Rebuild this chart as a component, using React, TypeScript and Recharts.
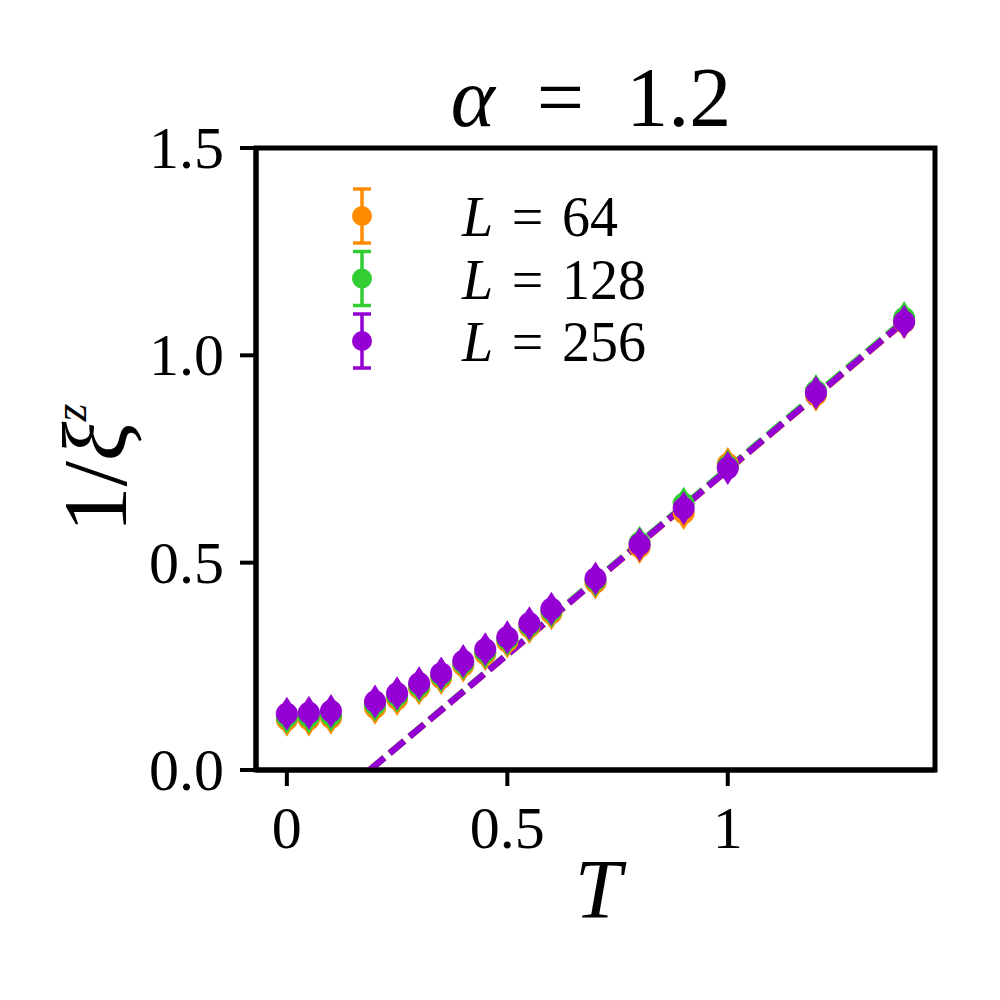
import React from 'react';
import { ComposedChart, Scatter, Line, XAxis, YAxis, ReferenceArea } from 'recharts';

const temps = [0, 0.05, 0.1, 0.2, 0.25, 0.3, 0.35, 0.4, 0.45, 0.5, 0.55, 0.6, 0.7, 0.8, 0.9, 1.0, 1.2, 1.4];
const invXiL64 = [0.121, 0.122, 0.126, 0.15, 0.171, 0.197, 0.222, 0.252, 0.28, 0.31, 0.345, 0.378, 0.452, 0.538, 0.62, 0.738, 0.905, 1.08];
const invXiL128 = [0.128, 0.129, 0.133, 0.158, 0.179, 0.203, 0.228, 0.258, 0.286, 0.316, 0.35, 0.384, 0.458, 0.548, 0.642, 0.732, 0.914, 1.09];
const invXiL256 = [0.1355, 0.138, 0.142, 0.165, 0.185, 0.209, 0.233, 0.263, 0.291, 0.32, 0.354, 0.389, 0.462, 0.544, 0.631, 0.728, 0.91, 1.081];

const fitT = [0.188, 1.4];
const fitL64 = [0, 1.08];
const fitL128 = [0, 1.085];
const fitL256 = [0, 1.081];

const sizes = [64, 128, 256];
const colors = ['#FF8C00', '#32CD32', '#9400D3'];

const xTicks = [0, 0.5, 1];
const xTickLabels = ['0', '0.5', '1'];
const yTicks = [0, 0.5, 1, 1.5];
const yTickLabels = ['0.0', '0.5', '1.0', '1.5'];

const FONT = '"Liberation Serif", "DejaVu Serif", serif';

const toPts = (xs: number[], ys: number[]) => xs.map((T, i) => ({ T, v: ys[i] }));

const seriesData = [invXiL64, invXiL128, invXiL256].map((ys) => toPts(temps, ys));
const fitData = [fitL64, fitL128, fitL256].map((ys) => toPts(fitT, ys));

const Drop = (props: any) => {
  const { cx, cy, fill } = props;
  if (cx == null || cy == null) return <g />;
  return (
    <g>
      <path d={`M${cx - 7},${cy - 6} L${cx + 7},${cy - 6} L${cx},${cy - 17} Z`} fill={fill} />
      <path d={`M${cx - 7},${cy + 6} L${cx + 7},${cy + 6} L${cx},${cy + 17} Z`} fill={fill} />
      <circle cx={cx} cy={cy} r={11} fill={fill} />
    </g>
  );
};

const XTick = (props: any) => {
  const { x, y, payload } = props;
  const i = xTicks.indexOf(payload.value);
  return (
    <text x={x} y={y + 60} textAnchor="middle" fontFamily={FONT} fontSize={60} fill="#000">
      {i >= 0 ? xTickLabels[i] : payload.value}
    </text>
  );
};

const YTick = (props: any) => {
  const { x, y, payload } = props;
  const i = yTicks.indexOf(payload.value);
  return (
    <text x={x - 14} y={y + 20} textAnchor="end" fontFamily={FONT} fontSize={60} fill="#000">
      {i >= 0 ? yTickLabels[i] : payload.value}
    </text>
  );
};

const axisStroke = { stroke: '#000', strokeWidth: 5 };
const tickStroke = { stroke: '#000', strokeWidth: 4 };

export default function App() {
  return (
    <div style={{ position: 'absolute', left: 0, top: 0, width: 1000, height: 1000, background: '#fff' }}>
      <ComposedChart
        width={1000}
        height={1000}
        margin={{ top: 148, right: 65, bottom: 170, left: 156 }}
      >
        <XAxis
          type="number"
          dataKey="T"
          domain={[-0.07, 1.47]}
          allowDataOverflow
          ticks={xTicks}
          tick={<XTick />}
          tickSize={16}
          tickLine={tickStroke}
          axisLine={axisStroke}
          height={60}
        />
        <YAxis
          type="number"
          dataKey="v"
          domain={[0, 1.5]}
          allowDataOverflow
          ticks={yTicks}
          tick={<YTick />}
          tickSize={16}
          tickLine={tickStroke}
          axisLine={axisStroke}
          width={100}
        />
        {fitData.map((d, i) => (
          <Line
            key={'fit' + i}
            data={d}
            dataKey="v"
            type="linear"
            stroke={colors[i]}
            strokeWidth={6.5}
            strokeDasharray="19 7"
            dot={false}
            activeDot={false}
            isAnimationActive={false}
          />
        ))}
        {seriesData.map((d, i) => (
          <Scatter
            key={'s' + i}
            name={`L = ${sizes[i]}`}
            data={d}
            dataKey="v"
            fill={colors[i]}
            shape={<Drop />}
            isAnimationActive={false}
          />
        ))}
        <ReferenceArea
          x1={-0.07}
          x2={1.47}
          y1={0}
          y2={1.5}
          fill="none"
          fillOpacity={0}
          stroke="#000"
          strokeWidth={5}
          strokeOpacity={1}
          ifOverflow="visible"
        />
      </ComposedChart>
      <svg
        width={1000}
        height={1000}
        style={{ position: 'absolute', left: 0, top: 0, pointerEvents: 'none' }}
      >
        <text x={591} y={126} textAnchor="middle" fontFamily={FONT} fontSize={84} fill="#000">
          <tspan fontStyle="italic">α</tspan>
          <tspan>{'\u2002=\u20021.2'}</tspan>
        </text>
        <text x={598} y={918} textAnchor="middle" fontFamily={FONT} fontSize={84} fontStyle="italic" fill="#000">
          T
        </text>
        <text
          x={126}
          y={468}
          textAnchor="middle"
          fontFamily={FONT}
          fontSize={92}
          fill="#000"
          transform="rotate(-90 126 468)"
        >
          <tspan>1/</tspan>
          <tspan fontStyle="italic">ξ</tspan>
          <tspan fontStyle="italic" fontSize={46} dy={-40}>z</tspan>
        </text>
        {sizes.map((L, i) => {
          const cy = 216 + i * 62.5;
          const cx = 362;
          return (
            <g key={'leg' + i}>
              <line x1={cx} y1={cy - 27} x2={cx} y2={cy + 27} stroke={colors[i]} strokeWidth={3.5} />
              <line x1={cx - 9} y1={cy - 27} x2={cx + 9} y2={cy - 27} stroke={colors[i]} strokeWidth={3.5} />
              <line x1={cx - 9} y1={cy + 27} x2={cx + 9} y2={cy + 27} stroke={colors[i]} strokeWidth={3.5} />
              <circle cx={cx} cy={cy} r={10} fill={colors[i]} />
              <text x={462} y={cy + 20} fontFamily={FONT} fontSize={56} fill="#000">
                <tspan fontStyle="italic">L</tspan>
                <tspan>{`\u2004=\u2004${L}`}</tspan>
              </text>
            </g>
          );
        })}
      </svg>
    </div>
  );
}
